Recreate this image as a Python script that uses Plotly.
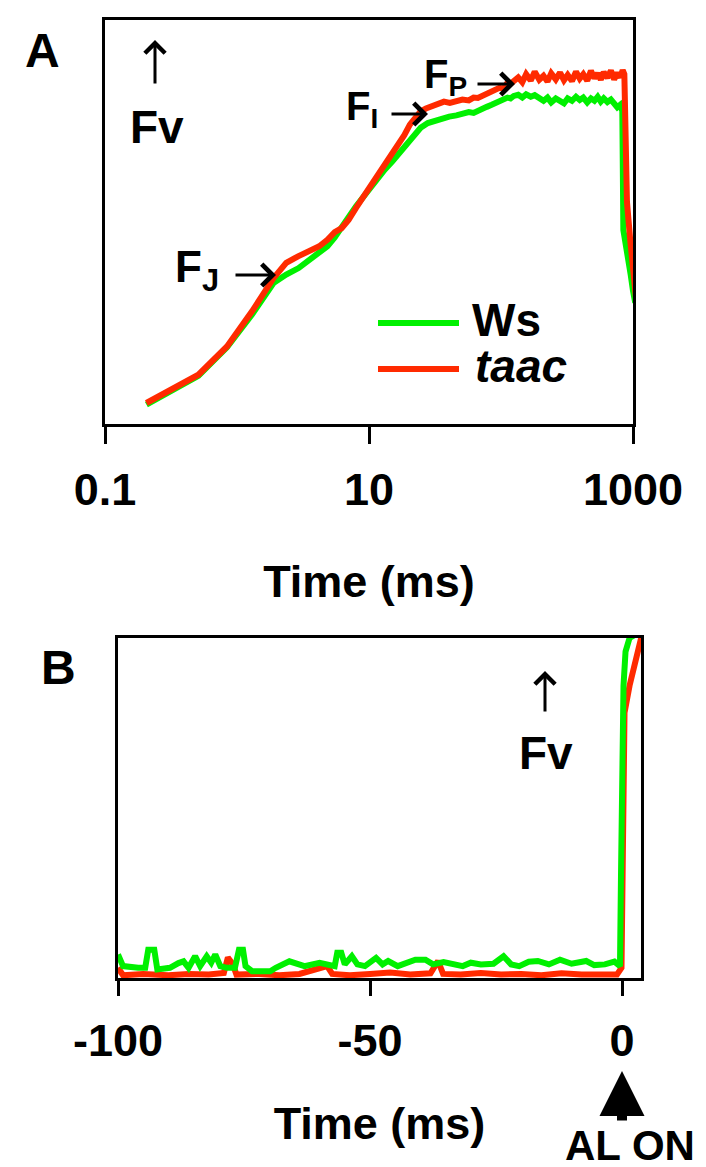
import plotly.graph_objects as go

# ---------------- Panel A data (time in ms, Fv in relative units) ----------------
ws_t = [0.206, 0.3, 0.51, 0.84, 1.30, 1.89, 2.36, 2.93, 3.54, 4.2, 4.84, 5.5, 6.21, 7.0, 7.98,
        9.0, 10.3, 11.5, 13.2, 15.0, 16.9, 19.2, 21.7, 24.6, 27.9, 31.5, 35.8, 40.5, 45.9, 51,
        57, 62, 66.8, 72, 78, 85, 91, 97.3, 105, 112, 118, 125, 135, 145, 155, 168, 180, 195,
        210, 225, 240, 260, 280, 300, 320, 345, 370, 395, 420, 450, 480, 510, 540, 570, 600,
        640, 680, 720, 760, 800, 830, 845, 880, 915, 960, 1000, 1040]
ws_fv = [0.048, 0.078, 0.119, 0.190, 0.271, 0.349, 0.370, 0.386, 0.407, 0.424, 0.440, 0.462,
         0.485, 0.512, 0.539, 0.562, 0.584, 0.607, 0.630, 0.650, 0.671, 0.695, 0.716, 0.733,
         0.745, 0.751, 0.757, 0.761, 0.764, 0.768, 0.772, 0.770, 0.776, 0.778, 0.785, 0.790,
         0.795, 0.800, 0.805, 0.808, 0.806, 0.812, 0.815, 0.808, 0.816, 0.810, 0.814, 0.806,
         0.800, 0.808, 0.796, 0.806, 0.800, 0.794, 0.806, 0.800, 0.810, 0.802, 0.808, 0.796,
         0.806, 0.800, 0.810, 0.798, 0.806, 0.797, 0.803, 0.790, 0.784, 0.790, 0.775, 0.480,
         0.450, 0.410, 0.370, 0.330, 0.300]

taac_t = [0.206, 0.3, 0.51, 0.84, 1.30, 1.89, 2.36, 2.9, 3.54, 4.2, 4.84, 5.5, 6.21, 7.0, 7.98,
          9.0, 10.3, 11.5, 13.2, 15.0, 16.9, 18.5, 20.4, 22.5, 24.6, 27, 29.7, 33, 37, 41, 45.9,
          51, 57, 62, 66.8, 72, 78, 85, 91, 97.3, 105, 112, 118, 125, 135, 145, 155, 168, 180,
          195, 210, 225, 240, 260, 280, 300, 320, 345, 370, 395, 420, 450, 480, 510, 540, 570,
          600, 640, 680, 720, 760, 800, 835, 860, 900, 950, 1000, 1070]
taac_fv = [0.052, 0.081, 0.122, 0.192, 0.279, 0.361, 0.399, 0.415, 0.427, 0.440, 0.456, 0.475,
           0.485, 0.505, 0.535, 0.560, 0.592, 0.615, 0.642, 0.668, 0.691, 0.715, 0.741, 0.760,
           0.774, 0.781, 0.786, 0.790, 0.798, 0.795, 0.799, 0.803, 0.801, 0.808, 0.807, 0.812,
           0.815, 0.820, 0.826, 0.832, 0.830, 0.845, 0.842, 0.848, 0.858, 0.846, 0.866, 0.850,
           0.872, 0.852, 0.862, 0.848, 0.868, 0.853, 0.870, 0.851, 0.864, 0.849, 0.872, 0.855,
           0.866, 0.850, 0.874, 0.856, 0.868, 0.852, 0.871, 0.857, 0.875, 0.853, 0.869, 0.858,
           0.876, 0.866, 0.550, 0.460, 0.380, 0.290]

tick_a_vals = [0.1, 10, 1000]
tick_a_text = ["0.1", "10", "1000"]

# ---------------- Panel B data (time in ms relative to AL ON) ----------------
ws_b_t = [-100, -99, -96, -94.6, -94, -92.8, -92.2, -89.7, -88, -87, -86, -84.7, -83.7, -82.4,
          -81.5, -80.7, -79.7, -78.4, -76.8, -76, -75.2, -74.7, -73.4, -69.8, -68.7, -66, -63,
          -60, -57, -56.5, -55.7, -55, -53.6, -52.5, -51, -49.5, -48.8, -47.5, -46.4, -44.5,
          -42.9, -41, -39, -37.5, -35.4, -33.5, -31.6, -30, -28, -25.5, -23.5, -22, -20.4,
          -18.5, -16.7, -14.5, -12.3, -10, -7.1, -5.5, -3.4, -1.5, -0.4, -0.2, 0.0, 0.3, 0.7,
          1.5, 3.8]
ws_b_fv = [0.069, 0.035, 0.030, 0.030, 0.083, 0.083, 0.025, 0.030, 0.044, 0.049, 0.030, 0.064,
           0.035, 0.064, 0.045, 0.069, 0.035, 0.030, 0.030, 0.083, 0.083, 0.035, 0.020, 0.020,
           0.030, 0.049, 0.035, 0.045, 0.035, 0.074, 0.074, 0.040, 0.064, 0.040, 0.035, 0.050,
           0.059, 0.040, 0.050, 0.035, 0.044, 0.054, 0.054, 0.040, 0.047, 0.040, 0.035, 0.045,
           0.040, 0.042, 0.064, 0.040, 0.035, 0.048, 0.050, 0.040, 0.054, 0.042, 0.050, 0.038,
           0.040, 0.048, 0.035, 0.300, 0.590, 0.860, 0.960, 1.000, 1.020]

taac_b_t = [-100, -99, -95, -90, -86, -82, -79, -78.2, -77.2, -76.5, -72, -68, -64, -58.5, -57.5,
            -54, -50, -46, -42, -38, -36.5, -35.5, -32, -28, -24, -20, -16, -12, -8, -4, -1,
            -0.1, 0.1, 0.5, 1.5, 2.5, 3.8]
taac_b_fv = [0.030, 0.008, 0.012, 0.008, 0.012, 0.010, 0.015, 0.060, 0.040, 0.010, 0.012, 0.008,
             0.012, 0.035, 0.012, 0.008, 0.012, 0.016, 0.010, 0.014, 0.050, 0.012, 0.010, 0.015,
             0.010, 0.012, 0.008, 0.014, 0.010, 0.012, 0.010, 0.030, 0.500, 0.780, 0.860, 0.930,
             1.000]

tick_b_vals = [-100, -50, 0]
tick_b_text = ["-100", "-50", "0"]

GREEN = "#00f000"
RED = "#ff2a00"
FONT = "Liberation Sans, Arial, sans-serif"
W, H = 706, 1167


def px(x):
    return x / W


def py(y):
    return 1 - y / H


fig = go.Figure()
fig.add_trace(go.Scatter(x=ws_t, y=ws_fv, mode="lines", name="Ws",
                         line=dict(color=GREEN, width=6), xaxis="x", yaxis="y", showlegend=False))
fig.add_trace(go.Scatter(x=taac_t, y=taac_fv, mode="lines", name="taac",
                         line=dict(color=RED, width=6), xaxis="x", yaxis="y", showlegend=False))
fig.add_trace(go.Scatter(x=taac_b_t, y=taac_b_fv, mode="lines", name="taac",
                         line=dict(color=RED, width=6), xaxis="x2", yaxis="y2", showlegend=False))
fig.add_trace(go.Scatter(x=ws_b_t, y=ws_b_fv, mode="lines", name="Ws",
                         line=dict(color=GREEN, width=6), xaxis="x2", yaxis="y2", showlegend=False))

axis_common = dict(showline=True, mirror=True, linecolor="black", linewidth=3,
                   showgrid=False, zeroline=False, automargin=False)
tickfont = dict(family=FONT, size=45, color="black", weight="bold")
titlefont = dict(family=FONT, size=45, color="black", weight="bold")

fig.update_layout(
    width=W, height=H,
    margin=dict(l=0, r=0, t=0, b=0, autoexpand=False),
    paper_bgcolor="white", plot_bgcolor="white",
    xaxis=dict(type="log", range=[-1, 3], domain=[px(97), px(625)], anchor="y",
               tickmode="array", tickvals=tick_a_vals, ticktext=tick_a_text,
               ticks="outside", ticklen=17, tickwidth=3, tickcolor="black",
               tickfont=tickfont, ticklabelstandoff=7,
               title=dict(text="Time (ms)", font=titlefont, standoff=52),
               **axis_common),
    yaxis=dict(range=[0, 1], domain=[py(416), py(12)], anchor="x",
               showticklabels=False, ticks="", **axis_common),
    xaxis2=dict(range=[-100, 3.77], domain=[px(110), px(633)], anchor="y2",
                tickmode="array", tickvals=tick_b_vals, ticktext=tick_b_text,
                ticks="outside", ticklen=15, tickwidth=3, tickcolor="black",
                tickfont=tickfont, ticklabelstandoff=6,
                title=dict(text="Time (ms)", font=titlefont, standoff=43),
                **axis_common),
    yaxis2=dict(range=[0, 1], domain=[py(970), py(630)], anchor="x2",
                showticklabels=False, ticks="", **axis_common),
)

ann = []


def txt(x, y, text, size, xanchor="center", yanchor="middle", italic=False):
    ann.append(dict(x=px(x), y=py(y), xref="paper", yref="paper", text=text, showarrow=False,
                    xanchor=xanchor, yanchor=yanchor,
                    font=dict(family=FONT, size=size, color="black", weight="bold",
                              style="italic" if italic else "normal")))


def arrow(x_tip, y_tip, dx, dy, head=4, width=3, size=1.4):
    # open-chevron arrow drawn as an annotation; (dx, dy) is the tail offset in pixels
    ann.append(dict(x=px(x_tip), y=py(y_tip), xref="paper", yref="paper", text="",
                    showarrow=True, ax=dx, ay=dy, arrowhead=head, arrowwidth=width,
                    arrowsize=size, arrowcolor="black"))


# Panel A labels
txt(34, 42, "A", 48)
arrow(147, 32, 0, 45, size=1.3)
txt(149, 119, "Fv", 46)
txt(165, 262, "F<sub>J</sub>", 44, xanchor="left")
arrow(268, 267, -42, 0)
txt(336, 101, "F<sub>I</sub>", 40, xanchor="left")
arrow(420, 106, -38, 0)
txt(414, 69, "F<sub>P</sub>", 40, xanchor="left")
arrow(507, 76, -39, 0)
# legend
txt(462, 312, "Ws", 46, xanchor="left")
txt(465, 358, "taac", 46, xanchor="left", italic=True)

# Panel B labels
txt(50, 659, "B", 48)
arrow(537, 663, 0, 42, size=1.3)
txt(538, 745, "Fv", 46)
txt(622, 1163, "AL ON", 42, yanchor="bottom")
ann.append(dict(x=0, y=py(1063), xref="x2", yref="paper", text="", showarrow=True,
                ax=0, ay=51, arrowhead=2, arrowsize=0.9, arrowwidth=10, arrowcolor="black"))

fig.update_layout(annotations=ann)

# legend sample lines
fig.add_shape(type="line", xref="paper", yref="paper", x0=px(370), x1=px(451), y0=py(315),
              y1=py(315), line=dict(color=GREEN, width=6))
fig.add_shape(type="line", xref="paper", yref="paper", x0=px(370), x1=px(451), y0=py(361),
              y1=py(361), line=dict(color=RED, width=6))

fig.write_html("out.html")
